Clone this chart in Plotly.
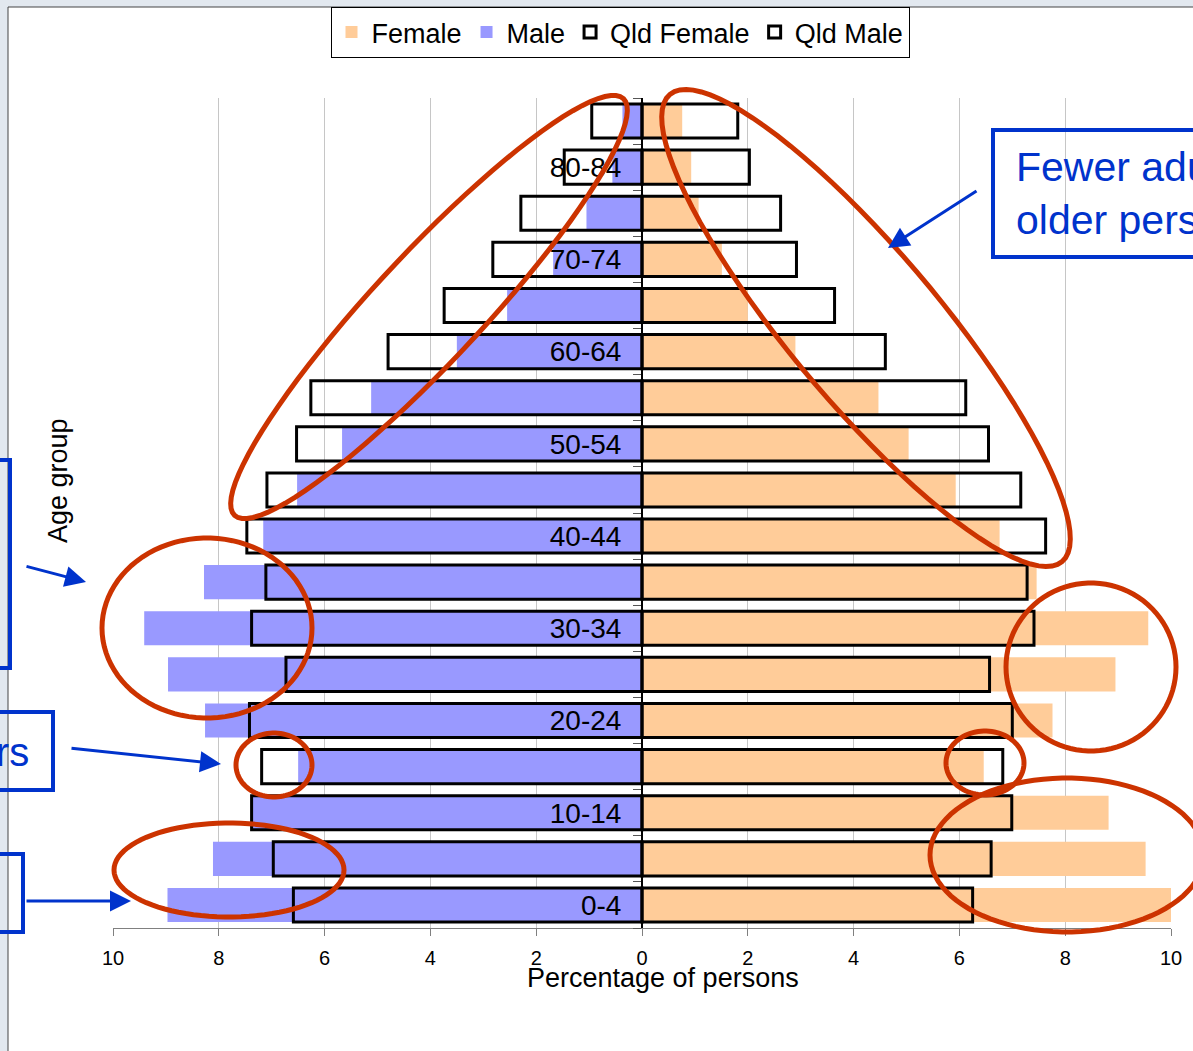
import numpy as np
import plotly.graph_objects as go

# age groups, youngest first (bottom of the pyramid)
ages = ["0-4", "5-9", "10-14", "15-19", "20-24", "25-29", "30-34", "35-39", "40-44",
        "45-49", "50-54", "55-59", "60-64", "65-69", "70-74", "75-79", "80-84", "85+"]
# percentage of persons
female = [10.08, 9.52, 8.82, 6.46, 7.76, 8.95, 9.57, 7.46, 6.76,
          5.93, 5.04, 4.47, 2.90, 2.00, 1.51, 1.07, 0.93, 0.76]
male = [8.97, 8.11, 7.36, 6.50, 8.26, 8.96, 9.41, 8.28, 7.16,
        6.52, 5.67, 5.12, 3.50, 2.55, 1.68, 1.05, 0.56, 0.37]
qld_female = [6.25, 6.60, 6.99, 6.82, 7.00, 6.57, 7.41, 7.28, 7.63,
              7.16, 6.55, 6.12, 4.60, 3.64, 2.92, 2.62, 2.03, 1.81]
qld_male = [6.59, 6.97, 7.38, 7.19, 7.42, 6.73, 7.38, 7.11, 7.47,
            7.09, 6.53, 6.26, 4.80, 3.74, 2.82, 2.29, 1.47, 0.95]
age_labels = [a if i % 2 == 0 else "" for i, a in enumerate(ages)]
x_ticks = [-10, -8, -6, -4, -2, 0, 2, 4, 6, 8, 10]

W, H = 1193, 1051
ML, MR, MT, MB = 113, 22, 98, 123
PW, PH = W - ML - MR, H - MT - MB
FONT = "Liberation Sans, Arial, sans-serif"
RED = "#cc3300"
BLUE = "#0033cc"
PAGE = "#e2e8ef"


def px(x):
    return (x - ML) / PW


def py(y):
    return (H - MB - y) / PH


def ellipse(cx, cy, a, b, deg=0, n=90):
    t = np.linspace(0, 2 * np.pi, n, endpoint=False)
    th = np.radians(deg)
    xs = cx + a * np.cos(t) * np.cos(th) - b * np.sin(t) * np.sin(th)
    ys = cy + a * np.cos(t) * np.sin(th) + b * np.sin(t) * np.cos(th)
    pts = ["%.5f,%.5f" % (px(x), py(y)) for x, y in zip(xs, ys)]
    return dict(type="path", xref="paper", yref="paper", path="M" + " L".join(pts) + " Z",
                line=dict(color=RED, width=5), layer="above")


fig = go.Figure()
fig.add_trace(go.Bar(x=female, y=ages, orientation="h", name="Female",
                     marker=dict(color="#ffcc99", line=dict(width=0))))
fig.add_trace(go.Bar(x=[-v for v in male], y=ages, orientation="h", name="Male",
                     marker=dict(color="#9999ff", line=dict(width=0))))
fig.add_trace(go.Bar(x=qld_female, y=ages, orientation="h", name="Qld Female",
                     marker=dict(color="rgba(0,0,0,0)", line=dict(color="black", width=3))))
fig.add_trace(go.Bar(x=[-v for v in qld_male], y=ages, orientation="h", name="Qld Male",
                     marker=dict(color="rgba(0,0,0,0)", line=dict(color="black", width=3))))

shapes = [
    # white chart area over the light page background
    dict(type="rect", xref="paper", yref="paper", x0=px(8), x1=px(1210), y0=py(7), y1=py(1070),
         fillcolor="white", line=dict(color="#444444", width=1), layer="below"),
    # callout boxes
    dict(type="rect", xref="paper", yref="paper", x0=px(-20), x1=px(10), y0=py(460), y1=py(668),
         line=dict(color=BLUE, width=4)),
    dict(type="rect", xref="paper", yref="paper", x0=px(-20), x1=px(53), y0=py(712), y1=py(790),
         line=dict(color=BLUE, width=4)),
    dict(type="rect", xref="paper", yref="paper", x0=px(-20), x1=px(23), y0=py(854), y1=py(932),
         line=dict(color=BLUE, width=4)),
    dict(type="rect", xref="paper", yref="paper", x0=px(993), x1=px(1260), y0=py(130), y1=py(257),
         line=dict(color=BLUE, width=4)),
    # red highlight ellipses
    ellipse(429, 307, 285, 54, -47),
    ellipse(866, 328, 305, 75, 50),
    ellipse(207, 628, 105, 90),
    ellipse(1091, 667, 85, 84),
    ellipse(274, 765, 38, 32),
    ellipse(985, 763, 39, 32),
    ellipse(229, 870, 115, 47),
    ellipse(1067, 855, 137, 77),
]

annotations = [
    dict(text="Percentage of persons", x=px(663), y=py(978), xref="paper", yref="paper",
         xanchor="center", yanchor="middle", showarrow=False,
         font=dict(size=27, color="black", family=FONT)),
    dict(text="Age group", x=px(58), y=py(481), xref="paper", yref="paper", textangle=-90,
         xanchor="center", yanchor="middle", showarrow=False,
         font=dict(size=27, color="black", family=FONT)),
    dict(text="Fewer adults and<br>older persons", x=px(1014), y=py(193), xref="paper", yref="paper",
         xanchor="left", yanchor="middle", align="left", showarrow=False,
         font=dict(size=41, color=BLUE, family=FONT)),
    dict(text="Fewer teenagers", x=px(31), y=py(752), xref="paper", yref="paper",
         xanchor="right", yanchor="middle", showarrow=False,
         font=dict(size=40, color=BLUE, family=FONT)),
]
# blue arrows: head position, tail offset in pixels
for hx, hy, ax, ay in [(888, 248, 90, -58), (86, 582, -61, -16), (221, 764, -151, -16), (131, 901, -106, 0)]:
    annotations.append(dict(text="", x=px(hx), y=py(hy), xref="paper", yref="paper",
                            ax=ax, ay=ay, showarrow=True, arrowhead=2, arrowsize=1.4,
                            arrowwidth=3, arrowcolor=BLUE))

fig.update_layout(
    width=W, height=H,
    margin=dict(l=ML, r=MR, t=MT, b=MB, autoexpand=False),
    barmode="overlay", bargap=0.26,
    paper_bgcolor=PAGE, plot_bgcolor="rgba(0,0,0,0)",
    font=dict(family=FONT, color="black"),
    showlegend=True,
    legend=dict(orientation="h", x=px(620), xanchor="center", y=py(7), yanchor="top",
                bgcolor="white", bordercolor="black", borderwidth=1,
                font=dict(size=27, family=FONT), itemwidth=30, tracegroupgap=0),
    shapes=shapes, annotations=annotations,
)
fig.update_xaxes(range=[-10, 10], tickvals=x_ticks, ticktext=[str(abs(v)) for v in x_ticks],
                 showgrid=True, gridcolor="#c6c6c6", gridwidth=1, zeroline=False,
                 showline=True, linecolor="#808080", linewidth=1,
                 ticks="outside", ticklen=7, tickcolor="#808080", ticklabelstandoff=5,
                 tickfont=dict(size=20), automargin=False)
fig.update_yaxes(type="category", categoryorder="array", categoryarray=ages,
                 range=[-0.5, 17.5], tickmode="array", tickvals=ages, ticktext=age_labels,
                 tickson="boundaries", ticks="outside", ticklen=8, tickcolor="#555555",
                 ticklabelstandoff=14,
                 anchor="free", position=0.5, showline=True, linecolor="black", linewidth=2,
                 showgrid=False, zeroline=False, tickfont=dict(size=28), automargin=False)

fig.write_html("out.html", config={"displayModeBar": False},
               post_script="document.body.style.margin='0';document.body.style.background='%s';" % PAGE)
